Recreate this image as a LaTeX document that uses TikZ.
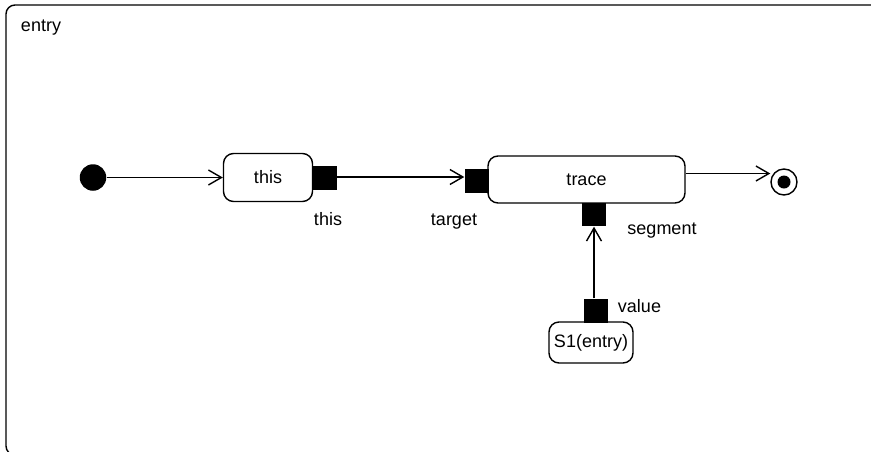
\documentclass[tikz,border=0pt]{standalone}
\usepackage{fontspec}
\setmainfont{Liberation Sans}
\usetikzlibrary{arrows.meta}

\begin{document}
\begin{tikzpicture}[x=1pt,y=-1pt,line width=1.4pt,font=\fontsize{18}{21}\selectfont,
    state/.style={draw,rounded corners=10pt,inner sep=0pt},
    port/.style={fill,minimum size=24pt,inner sep=0pt},
    lbl/.style={anchor=base,inner sep=0pt},
    flow/.style={-{Straight Barb[length=13pt,width=15pt]}}]
    \useasboundingbox (0,0) rectangle (871,451);
    \begin{scope}
      \clip (0,0) rectangle (871,451);
      \draw[rounded corners=9pt] (6,5) rectangle (890,455);
    \end{scope}
    \node[lbl] (T) at (41,31.5) {entry};
    \node[circle,fill,minimum size=26.5pt,inner sep=0pt] (I) at (93,177.5) {};
    \node[state,minimum width=89pt,minimum height=48pt] (A) at (268,177.5) {this};
    \node[state,minimum width=197pt,minimum height=47pt] (B) at (586.5,179.5) {trace};
    \node[state,minimum width=84pt,minimum height=41pt] (C) at (591,342.5) {S1(entry)};
    \node[port] (P1) at (324.5,178) {};
    \node[port] (P2) at (477,181) {};
    \node[port,minimum height=23pt] (P3) at (594,214.5) {};
    \node[port] (P4) at (595.5,311) {};
    \node[circle,draw,minimum size=26pt,inner sep=0pt] (F) at (784,182) {};
    \fill (F) circle (6.5);
    \node[lbl] (L1) at (328,225) {this};
    \node[lbl] (L2) at (454,225) {target};
    \node[lbl] (L3) at (662,234) {segment};
    \node[lbl] (L4) at (639.5,312.5) {value};
    \draw[flow] (I) -- (A);
    \draw[flow] ([yshift=1pt]P1.east) -- ([yshift=1pt]P1.east -| P2.west);
    \draw[flow] ([yshift=6pt]B.east) -- ([yshift=6pt]B.east -| F.west);
    \draw[flow] (P4.north -| P3) -- (P3.south);
  \end{tikzpicture}
\end{document}
